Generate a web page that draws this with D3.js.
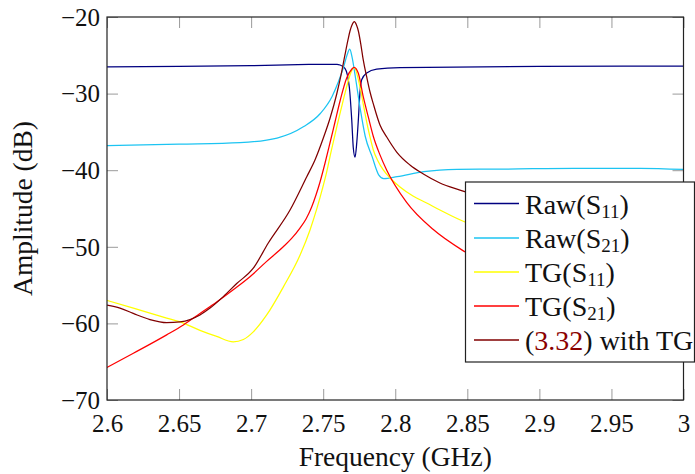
<!DOCTYPE html>
<html>
<head>
<meta charset="utf-8">
<script src="https://cdn.jsdelivr.net/npm/d3@7"></script>
<style>
  html, body { margin: 0; padding: 0; background: #fff; }
  svg { display: block; }
  text { font-family: "Liberation Serif", "DejaVu Serif", serif; fill: #111; }
</style>
</head>
<body>
<svg id="chart" width="695" height="474"></svg>
<script>
// ---------------- data ----------------
const xTicks = [2.6, 2.65, 2.7, 2.75, 2.8, 2.85, 2.9, 2.95, 3.0];
const xTickLabels = ["2.6", "2.65", "2.7", "2.75", "2.8", "2.85", "2.9", "2.95", "3"];
const yTicks = [-70, -60, -50, -40, -30, -20];
const yTickLabels = ["\u221270", "\u221260", "\u221250", "\u221240", "\u221230", "\u221220"];

const rawS11Freq = [2.600, 2.650, 2.700, 2.740, 2.7596, 2.7617, 2.7651, 2.7681, 2.7698, 2.7709, 2.7721, 2.7733, 2.7744, 2.7755, 2.7767, 2.7802, 2.7871, 2.8033, 2.900, 3.000];
const rawS11dB   = [-26.5, -26.45, -26.35, -26.2, -26.17, -26.27, -26.7, -29.1, -33.4, -37.1, -38.3, -36.4, -33.4, -29.9, -28.2, -27.3, -26.8, -26.6, -26.45, -26.4];

const rawS21Freq = [2.600, 2.650, 2.6923, 2.718, 2.7365, 2.748, 2.7561, 2.7607, 2.7642, 2.7665, 2.7684, 2.7700, 2.7723, 2.7758, 2.7792, 2.7839, 2.7885, 2.7920, 2.8013, 2.8198, 2.8429, 2.8775, 2.9238, 2.970, 3.000];
const rawS21dB   = [-36.8, -36.6, -36.4, -35.8, -34.3, -32.6, -30.4, -28.4, -26.5, -25.0, -24.2, -25.2, -27.8, -32.1, -35.6, -38.2, -40.6, -41.1, -40.85, -40.2, -39.9, -39.85, -39.75, -39.75, -39.9];

const tgS11Freq = [2.600, 2.6183, 2.6414, 2.6507, 2.6645, 2.6761, 2.6876, 2.6946, 2.7015, 2.7108, 2.7223, 2.7339, 2.7408, 2.7457, 2.7492, 2.7524, 2.7554, 2.7594, 2.7624, 2.7651, 2.7672, 2.7686, 2.7700, 2.7714, 2.7755, 2.7778, 2.7802, 2.7825, 2.7848, 2.7880, 2.7917, 2.7964, 2.8033, 2.8123, 2.8218, 2.8310, 2.8484, 2.900, 2.950, 3.000];
const tgS11dB   = [-57.0, -58.0, -59.3, -59.8, -60.9, -61.7, -62.4, -62.1, -61.1, -58.9, -55.26, -51.1, -47.83, -44.96, -42.61, -40.26, -37.65, -34.39, -32.04, -29.96, -28.49, -27.57, -26.92, -26.56, -29.1, -31.36, -33.71, -35.67, -37.36, -38.8, -39.97, -41.02, -42.19, -43.37, -44.28, -45.2, -46.76, -48.6, -50.0, -51.2];

const tgS21Freq = [2.600, 2.6183, 2.6414, 2.6530, 2.6645, 2.6761, 2.6876, 2.6992, 2.7108, 2.7223, 2.7281, 2.7339, 2.7381, 2.7420, 2.7450, 2.7478, 2.7513, 2.7547, 2.7582, 2.7617, 2.7663, 2.7698, 2.7714, 2.7744, 2.7778, 2.7813, 2.7848, 2.7894, 2.7941, 2.8079, 2.8264, 2.8483, 2.900, 2.950, 3.000];
const tgS21dB   = [-65.75, -63.9, -61.5, -60.2, -58.7, -57.2, -55.6, -53.9, -51.9, -50.0, -48.9, -47.55, -46.37, -44.81, -43.24, -41.54, -39.06, -36.45, -33.71, -30.97, -27.96, -26.82, -26.56, -27.35, -30.4, -33.05, -35.6, -38.0, -40.0, -44.2, -47.75, -50.65, -55.1, -58.0, -60.1];

const modelFreq = [2.600, 2.609, 2.6182, 2.6298, 2.6414, 2.6507, 2.6576, 2.6645, 2.6715, 2.6807, 2.690, 2.7015, 2.7119, 2.727, 2.7386, 2.7443, 2.7501, 2.7548, 2.7594, 2.7624, 2.7651, 2.7672, 2.7686, 2.7700, 2.7716, 2.7731, 2.7744, 2.7762, 2.7778, 2.7802, 2.7825, 2.7848, 2.7894, 2.7941, 2.8010, 2.8102, 2.8195, 2.8310, 2.8449, 2.900, 2.950, 3.000];
const modeldB   = [-57.6, -58.0, -58.7, -59.5, -59.9, -59.8, -59.5, -58.9, -58.0, -56.5, -54.8, -52.8, -49.5, -45.2, -40.85, -38.67, -35.8, -33.19, -30.05, -27.57, -24.96, -23.0, -21.83, -21.04, -20.61, -21.04, -21.83, -23.66, -25.61, -27.83, -29.79, -31.35, -34.1, -35.67, -37.63, -39.32, -40.5, -41.67, -42.59, -45.3, -47.2, -48.7];

const seriesNames = ["Raw(S11)", "Raw(S21)", "TG(S11)", "TG(S21)", "(3.32) with TG"];
const seriesColors = ["#000080", "#1cc4f2", "#ffff00", "#ff0000", "#800000"];

// ---------------- chart ----------------
const svg = d3.select("#chart");
const L = 107, R = 683.5, T = 17, B = 400;
const x = d3.scaleLinear().domain([2.6, 3.0]).range([L, R]);
const y = d3.scaleLinear().domain([-70, -20]).range([B, T]);

svg.append("defs").append("clipPath").attr("id", "plotclip")
  .append("rect").attr("x", L).attr("y", T).attr("width", R - L).attr("height", B - T);

const series = [
  {f: rawS11Freq, v: rawS11dB},
  {f: rawS21Freq, v: rawS21dB},
  {f: tgS11Freq, v: tgS11dB},
  {f: tgS21Freq, v: tgS21dB},
  {f: modelFreq, v: modeldB}
];

const line = d3.line().x(d => x(d[0])).y(d => y(d[1])).curve(d3.curveMonotoneX);

// axes (ticks inward on all 4 sides)
const tickLen = 11;
const gB = svg.append("g").attr("transform", `translate(0,${B})`)
  .call(d3.axisBottom(x).tickValues(xTicks).tickFormat((d, i) => xTickLabels[i]).tickSizeInner(-tickLen).tickSizeOuter(0).tickPadding(0));
const gT = svg.append("g").attr("transform", `translate(0,${T})`)
  .call(d3.axisTop(x).tickValues(xTicks).tickFormat("").tickSizeInner(-tickLen).tickSizeOuter(0));
const gL = svg.append("g").attr("transform", `translate(${L},0)`)
  .call(d3.axisLeft(y).tickValues(yTicks).tickFormat((d, i) => yTickLabels[i]).tickSizeInner(-tickLen).tickSizeOuter(0).tickPadding(0));
const gR = svg.append("g").attr("transform", `translate(${R},0)`)
  .call(d3.axisRight(y).tickValues(yTicks).tickFormat("").tickSizeInner(-tickLen).tickSizeOuter(0));

[gB, gT, gL, gR].forEach(g => {
  g.select(".domain").remove();
  g.selectAll(".tick line").attr("stroke", "#9a9a9a").attr("stroke-width", 1);
});
gB.selectAll(".tick text").attr("y", 32).attr("dy", null)
  .style("font-size", "25px").style("font-family", "'Liberation Serif', serif").attr("fill", "#111");
gL.selectAll(".tick text").attr("x", -7).attr("dy", "0.33em")
  .style("font-size", "25px").style("font-family", "'Liberation Serif', serif").attr("fill", "#111");

// lines
const gLines = svg.append("g").attr("clip-path", "url(#plotclip)");
series.forEach((s, i) => {
  gLines.append("path")
    .datum(s.f.map((f, j) => [f, s.v[j]]))
    .attr("fill", "none")
    .attr("stroke", seriesColors[i])
    .attr("stroke-width", 1.25)
    .attr("stroke-linejoin", "round")
    .attr("d", line);
});

// frame
svg.append("rect").attr("x", L).attr("y", T).attr("width", R - L).attr("height", B - T)
  .attr("fill", "none").attr("stroke", "#222").attr("stroke-width", 1.2);

// axis titles
svg.append("text").attr("x", (L + R) / 2).attr("y", 466).attr("text-anchor", "middle")
  .style("font-size", "27.5px").text("Frequency (GHz)");
svg.append("text").attr("transform", `translate(32,${(T + B) / 2}) rotate(-90)`).attr("text-anchor", "middle")
  .style("font-size", "27.5px").text("Amplitude (dB)");

// legend
const lg = svg.append("g");
lg.append("rect").attr("x", 465.5).attr("y", 182).attr("width", 229).attr("height", 180)
  .attr("fill", "#fff").attr("stroke", "#222").attr("stroke-width", 1.2);
const rowY = [203.5, 238, 272, 306, 340];
seriesNames.forEach((name, i) => {
  const yy = rowY[i];
  lg.append("line").attr("x1", 474).attr("x2", 519).attr("y1", yy).attr("y2", yy)
    .attr("stroke", seriesColors[i]).attr("stroke-width", 1.3);
  const t = lg.append("text").attr("x", 525).attr("y", yy + 10).style("font-size", "28px");
  const m = name.match(/^(\w+)\(S(\d\d)\)$/);
  if (m) {
    t.append("tspan").text(m[1] + "(S");
    t.append("tspan").attr("dy", 4).style("font-size", "19px").text(m[2]);
    t.append("tspan").attr("dy", -4).text(")");
  } else {
    t.append("tspan").text("(");
    t.append("tspan").attr("fill", "#8b0000").text("3.32");
    t.append("tspan").text(") with TG");
  }
});
</script>
</body>
</html>
